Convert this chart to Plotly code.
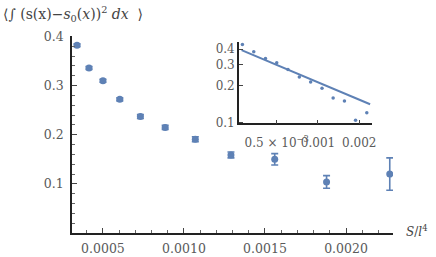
import numpy as np
import plotly.graph_objects as go

# data
s_vals = [0.000281, 0.000340, 0.000414, 0.000500, 0.000604, 0.000731,
          0.000884, 0.00107, 0.00129, 0.00156, 0.00188, 0.00227]
mean_vals = [0.438, 0.382, 0.336, 0.310, 0.272, 0.237,
             0.215, 0.191, 0.159, 0.150, 0.104, 0.120]
err_vals = [0.004, 0.003, 0.003, 0.003, 0.003, 0.004,
            0.004, 0.005, 0.006, 0.0115, 0.0128, 0.033]

# power-law fit shown in the inset: y = A * S^b
fit_exponent = -0.476
fit_ref_s = 0.000277
fit_ref_y = 0.394
fit_s_range = [0.000277, 0.0024]

main_yticks = [0.1, 0.2, 0.3, 0.4]
main_xticks = [0.0005, 0.0010, 0.0015, 0.0020]
inset_yticks = [0.1, 0.2, 0.3, 0.4]
inset_xticks = [0.0005, 0.001, 0.002]
inset_xtext = ["0.5 × 10<sup>−3</sup>", "0.001", "0.002"]

BLUE = "rgb(94,129,181)"
TICKC = "#5a5a5a"
FONT = "DejaVu Serif"

fit_x = np.array(fit_s_range)
fit_y = fit_ref_y * (fit_x / fit_ref_s) ** fit_exponent

fig = go.Figure()
fig.add_trace(go.Scatter(
    x=s_vals, y=mean_vals, mode="markers",
    marker=dict(color=BLUE, size=7),
    error_y=dict(type="data", array=err_vals, color=BLUE, thickness=1.6, width=3.5),
    showlegend=False, cliponaxis=True))

fig.add_trace(go.Scatter(
    x=s_vals, y=mean_vals, mode="markers", xaxis="x2", yaxis="y2",
    marker=dict(color=BLUE, size=3.5), showlegend=False))
fig.add_trace(go.Scatter(
    x=fit_x, y=fit_y, mode="lines", xaxis="x2", yaxis="y2",
    line=dict(color=BLUE, width=2), showlegend=False))

fig.update_layout(
    width=436, height=257,
    margin=dict(l=72, r=43, t=35.5, b=24),
    plot_bgcolor="white", paper_bgcolor="white",
    font=dict(family=FONT, size=12, color=TICKC),
    xaxis=dict(range=[0.000309, 0.00229], showgrid=False, zeroline=False,
               automargin=False,
               showline=True, linecolor="#222", linewidth=1.5,
               tickvals=main_xticks, tickformat=".4f", ticklabelstandoff=3,
               ticks="inside", ticklen=5, tickcolor="#444", tickwidth=1,
               minor=dict(dtick=0.0001, tick0=0, ticks="inside", ticklen=3,
                          tickcolor="#666", showgrid=False),
               tickfont=dict(size=12.5, color=TICKC)),
    yaxis=dict(range=[0, 0.401], showgrid=False, zeroline=False,
               automargin=False,
               showline=True, linecolor="#222", linewidth=1.5,
               tickvals=main_yticks, ticks="inside", ticklen=5,
               tickcolor="#444", tickwidth=1, ticklabelstandoff=4,
               minor=dict(dtick=0.02, tick0=0, ticks="inside", ticklen=3,
                          tickcolor="#666", showgrid=False),
               tickfont=dict(size=12.5, color=TICKC)),
    xaxis2=dict(type="log", domain=[0.520, 0.934], anchor="y2",
                automargin=False, tickangle=0, ticklabelstandoff=7,
                range=[np.log10(0.000265), np.log10(0.00247)],
                showgrid=False, zeroline=False, showline=True,
                linecolor="#222", linewidth=1.5,
                tickvals=inset_xticks, ticktext=inset_xtext,
                ticks="inside", ticklen=4, tickcolor="#444",
                tickfont=dict(size=12, color=TICKC)),
    yaxis2=dict(type="log", domain=[0.556, 0.970], anchor="x2",
                automargin=False,
                range=[np.log10(0.098), np.log10(0.46)],
                showgrid=False, zeroline=False, showline=True,
                linecolor="#222", linewidth=1.5,
                tickvals=inset_yticks, tickformat=".1f",
                ticks="inside", ticklen=4, tickcolor="#444",
                tickfont=dict(size=12, color=TICKC)),
)

fig.add_annotation(
    xref="paper", yref="paper", x=-0.222, y=1.11, xanchor="left", yanchor="middle",
    text="⟨∫ (s(x)−<i>s</i><sub>0</sub>(<i>x</i>))<sup>2</sup> <i>dx</i>  ⟩",
    showarrow=False, font=dict(family=FONT, size=14, color="#444"))
fig.add_annotation(
    xref="paper", yref="paper", x=1.033, y=0.01, xanchor="left", yanchor="middle",
    text="<i>S</i>/<i>l</i><sup>4</sup>",
    showarrow=False, font=dict(family=FONT, size=12, color="#444"))

fig.write_html(
    "out.html",
    config={"displayModeBar": False},
    post_script="document.body.style.margin='0';document.body.style.overflow='hidden';",
)
